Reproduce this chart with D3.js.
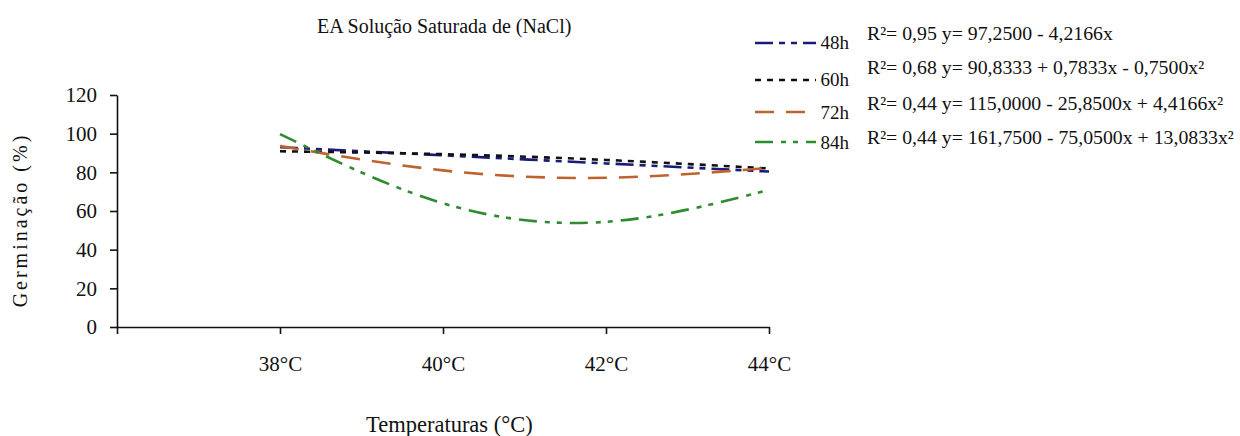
<!DOCTYPE html>
<html>
<head>
<meta charset="utf-8">
<script src="https://cdn.jsdelivr.net/npm/d3@7"></script>
<style>
  html, body { margin: 0; padding: 0; background: #fff; }
  svg { display: block; }
</style>
</head>
<body>
<svg id="chart" width="1240" height="436"></svg>
<script>
// ---- data ----
const categories = ["38°C", "40°C", "42°C", "44°C"];
const seriesNames = ["48h", "60h", "72h", "84h"];
const values48 = [93.0, 88.8, 84.6, 80.4];
const values60 = [90.9, 89.4, 86.4, 82.0];
const values72 = [93.6, 81.0, 77.2, 82.3];
const values84 = [99.8, 64.0, 54.4, 70.9];
const equations = [
  "R²= 0,95 y= 97,2500 - 4,2166x",
  "R²= 0,68 y= 90,8333 + 0,7833x - 0,7500x²",
  "R²= 0,44 y= 115,0000 - 25,8500x + 4,4166x²",
  "R²= 0,44 y= 161,7500 - 75,0500x + 13,0833x²"
];
const yTicks = [0, 20, 40, 60, 80, 100, 120];
const chartTitle = "EA Solução Saturada de (NaCl)";
const xTitle = "Temperaturas (°C)";
const yTitle = "Germinação (%)";

// ---- styles ----
const SERIF = "'Liberation Serif', 'Times New Roman', serif";
const styles = [
  { color: "#1a1a78", dash: "18,6,6,6,6,6" },
  { color: "#111111", dash: "6,6" },
  { color: "#c0622d", dash: "19,12" },
  { color: "#2e8b2e", dash: "18,8,5,7,5,8" }
];
const allValues = [values48, values60, values72, values84];

const svg = d3.select("#chart");
const mLeft = 117, mRight = 769, mTop = 95, mBottom = 327;

const x = d3.scaleLinear().domain([0, categories.length]).range([mLeft, mRight]);
const y = d3.scaleLinear().domain([0, 120]).range([mBottom, mTop]);

// axes
const yAxis = d3.axisLeft(y).tickValues(yTicks).tickSize(7).tickPadding(13).tickSizeOuter(0);
const gy = svg.append("g").attr("transform", `translate(${mLeft},0)`).call(yAxis);

const xAxis = d3.axisBottom(x)
  .tickValues(d3.range(0, categories.length + 1))
  .tickFormat(i => i === 0 ? "" : categories[i - 1])
  .tickSize(7).tickPadding(22).tickSizeOuter(0);
const gx = svg.append("g").attr("transform", `translate(0,${mBottom})`).call(xAxis);

[gx, gy].forEach(g => {
  g.attr("font-family", null).attr("font-size", null);
  g.selectAll("text")
    .style("font-family", SERIF)
    .style("font-size", "21px")
    .style("fill", "#111");
});

svg.selectAll(".domain, .tick line").attr("stroke", "#111").attr("stroke-width", 1.6);

// lines
const line = d3.line()
  .x((d, i) => x(i + 1))
  .y(d => y(d))
  .curve(d3.curveNatural);

allValues.forEach((vals, k) => {
  svg.append("path")
    .datum(vals)
    .attr("d", line)
    .attr("fill", "none")
    .attr("stroke", styles[k].color)
    .attr("stroke-width", 2.6)
    .attr("stroke-dasharray", styles[k].dash);
});

function txt(sel, size) {
  return sel.style("font-family", SERIF).style("font-size", size + "px").style("fill", "#111");
}

// title
txt(svg.append("text").attr("x", 317).attr("y", 33), 20).text(chartTitle);

// axis titles
txt(svg.append("text").attr("x", 366).attr("y", 432), 22.5).text(xTitle);
txt(svg.append("text")
  .attr("transform", "translate(27,220) rotate(-90)")
  .attr("text-anchor", "middle")
  .style("letter-spacing", "3px"), 20).text(yTitle);

// legend
const eqY = [40, 74, 110, 144];
const labY = [49, 86, 119, 149];
const sampY = [43, 80, 112, 142];
seriesNames.forEach((name, k) => {
  svg.append("line")
    .attr("x1", 755).attr("x2", 816)
    .attr("y1", sampY[k]).attr("y2", sampY[k])
    .attr("stroke", styles[k].color)
    .attr("stroke-width", 2.6)
    .attr("stroke-dasharray", styles[k].dash);
  txt(svg.append("text").attr("x", 849).attr("y", labY[k])
    .attr("text-anchor", "end"), 19).text(name);
  txt(svg.append("text").attr("x", 867).attr("y", eqY[k]), 19.8).text(equations[k]);
});
</script>
</body>
</html>
